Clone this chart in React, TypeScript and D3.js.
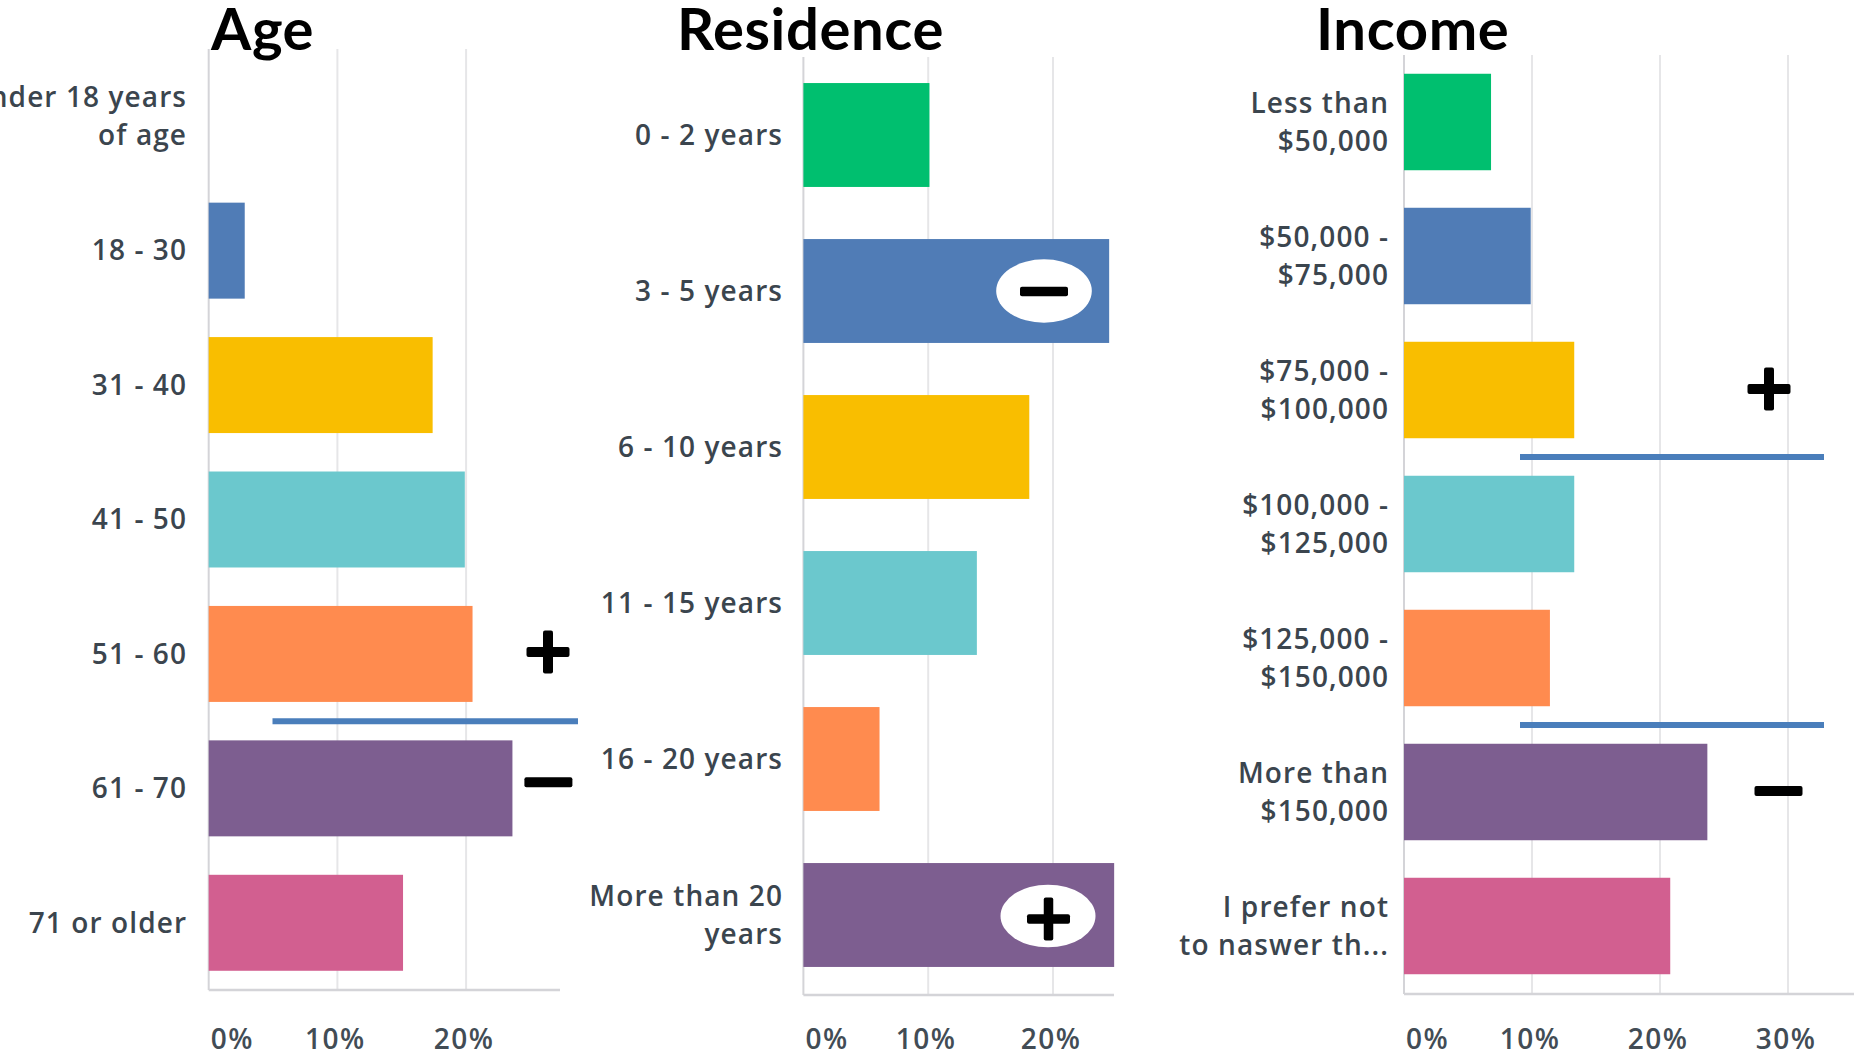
import React from "react";
import * as d3 from "d3";

// ---------- data ----------
const titles = ["Age", "Residence", "Income"];

const ageCategories = [
  ["Under 18 years", "of age"],
  ["18 - 30"],
  ["31 - 40"],
  ["41 - 50"],
  ["51 - 60"],
  ["61 - 70"],
  ["71 or older"],
];
const ageValues = [0, 2.8, 17.4, 19.9, 20.5, 23.6, 15.1];

const residenceCategories = [
  ["0 - 2 years"],
  ["3 - 5 years"],
  ["6 - 10 years"],
  ["11 - 15 years"],
  ["16 - 20 years"],
  ["More than 20", "years"],
];
const residenceValues = [10.1, 24.5, 18.1, 13.9, 6.1, 24.9];

const incomeCategories = [
  ["Less than", "$50,000"],
  ["$50,000 -", "$75,000"],
  ["$75,000 -", "$100,000"],
  ["$100,000 -", "$125,000"],
  ["$125,000 -", "$150,000"],
  ["More than", "$150,000"],
  ["I prefer not", "to naswer th..."],
];
const incomeValues = [6.8, 9.9, 13.3, 13.3, 11.4, 23.7, 20.8];

const ageTicks = [0, 10, 20];
const residenceTicks = [0, 10, 20];
const incomeTicks = [0, 10, 20, 30];

const barColors = ["#00bf6f", "#507cb6", "#f9be00", "#6bc8cd", "#ff8b4f", "#7d5e90", "#d25f90"];

// ---------- layout ----------
const W = 1858;
const H = 1055;
const LABEL_FONT = "'Open Sans', 'DejaVu Sans', sans-serif";
const TITLE_FONT = "Lato, 'Open Sans', sans-serif";
const LABEL_LS = 1.1;
const TICK_LS = 1.5;

type Panel = {
  title: string;
  titleX: number;
  cats: string[][];
  vals: number[];
  ticks: number[];
  x0: number;
  px10: number;
  xEnd: number;
  y0: number;
  y1: number;
  axisY: number;
  pad: number;
  labelX: number;
};

const panels: Panel[] = [
  { title: titles[0], titleX: 211, cats: ageCategories, vals: ageValues, ticks: ageTicks,
    x0: 208.7, px10: 128.7, xEnd: 560, y0: 49, y1: 990, axisY: 990, pad: 0.286, labelX: 186 },
  { title: titles[1], titleX: 677, cats: residenceCategories, vals: residenceValues, ticks: residenceTicks,
    x0: 803.4, px10: 124.8, xEnd: 1114, y0: 57, y1: 993, axisY: 995, pad: 0.334, labelX: 782 },
  { title: titles[2], titleX: 1316, cats: incomeCategories, vals: incomeValues, ticks: incomeTicks,
    x0: 1404, px10: 128, xEnd: 1854, y0: 55, y1: 993, axisY: 994, pad: 0.28, labelX: 1388 },
];

function makeScales(p: Panel) {
  const x = d3.scaleLinear().domain([0, 10]).range([p.x0, p.x0 + p.px10]);
  const y = d3
    .scaleBand<number>()
    .domain(d3.range(p.cats.length))
    .range([p.y0, p.y1])
    .paddingInner(p.pad)
    .paddingOuter(p.pad / 2);
  return { x, y };
}

function Plus({ cx, cy, size = 43, t = 10 }: { cx: number; cy: number; size?: number; t?: number }) {
  return (
    <g fill="#000">
      <rect x={cx - size / 2} y={cy - t / 2} width={size} height={t} rx={2} />
      <rect x={cx - t / 2} y={cy - size / 2} width={t} height={size} rx={2} />
    </g>
  );
}
function Minus({ cx, cy, size = 48, t = 10 }: { cx: number; cy: number; size?: number; t?: number }) {
  return <rect x={cx - size / 2} y={cy - t / 2} width={size} height={t} rx={2} fill="#000" />;
}

function PanelView({ p }: { p: Panel }) {
  const { x, y } = makeScales(p);
  const bw = y.bandwidth();
  return (
    <g>
      <text x={p.titleX} y={50} fontFamily={TITLE_FONT} fontWeight={700} fontSize={58} letterSpacing={0.6} fill="#000">
        {p.title}
      </text>
      {/* grid */}
      {p.ticks.filter((t) => t > 0).map((t) => (
        <line key={t} x1={x(t)} x2={x(t)} y1={p.y0} y2={p.axisY} stroke="#e6e6e8" strokeWidth={2} />
      ))}
      <line x1={p.x0} x2={p.x0} y1={p.y0} y2={p.axisY} stroke="#d4d4d8" strokeWidth={2} />
      <line x1={p.x0} x2={p.xEnd} y1={p.axisY} y2={p.axisY} stroke="#d4d4d8" strokeWidth={2.5} />
      {/* bars */}
      {p.vals.map((v, i) => (
        <rect key={i} x={p.x0} y={y(i)!} width={Math.max(0, x(v) - p.x0)} height={bw} fill={barColors[i]} />
      ))}
      {/* category labels */}
      {p.cats.map((lines, i) => {
        const cy = y(i)! + bw / 2;
        const lh = 37.5;
        const start = cy - ((lines.length - 1) * lh) / 2;
        return (
          <text
            key={i}
            textAnchor="end"
            fontFamily={LABEL_FONT}
            fontWeight={600}
            fontSize={28}
            letterSpacing={LABEL_LS}
            fill="#3b454e"
          >
            {lines.map((l, j) => (
              <tspan key={j} x={p.labelX + LABEL_LS} y={start + j * lh} dy="0.35em">
                {l}
              </tspan>
            ))}
          </text>
        );
      })}
      {/* tick labels */}
      {p.ticks.map((t) => (
        <text
          key={t}
          x={t === 0 ? p.x0 + 2 : x(t) - 2}
          y={1039}
          dy="0.35em"
          textAnchor={t === 0 ? "start" : "middle"}
          fontFamily={LABEL_FONT}
          fontWeight={600}
          fontSize={28}
          letterSpacing={TICK_LS}
          fill="#424c55"
        >
          {t}%
        </text>
      ))}
    </g>
  );
}

export default function App() {
  const [age, res, inc] = panels.map(makeScales);
  const gapY = (s: ReturnType<typeof makeScales>, i: number) => s.y(i)! - (s.y.step() - s.y.bandwidth()) / 2;
  const mid = (s: ReturnType<typeof makeScales>, i: number) => s.y(i)! + s.y.bandwidth() / 2;
  const blue = "#4a7ebb";
  return (
    <svg
      width={W}
      height={H}
      viewBox={`0 0 ${W} ${H}`}
      style={{ position: "absolute", left: 0, top: 0, background: "#fff" }}
    >
      <rect width={W} height={H} fill="#fff" />
      {panels.map((p) => (
        <PanelView key={p.title} p={p} />
      ))}
      {/* Age annotations */}
      <line x1={272.5} x2={578} y1={gapY(age, 5)} y2={gapY(age, 5)} stroke={blue} strokeWidth={6} />
      <Plus cx={548} cy={mid(age, 4) - 2} />
      <Minus cx={548.4} cy={mid(age, 5) - 6} />
      {/* Residence annotations */}
      <ellipse cx={1044} cy={mid(res, 1)} rx={47.8} ry={31.7} fill="#fff" />
      <Minus cx={1044} cy={mid(res, 1) + 0.5} size={48} t={9.5} />
      <ellipse cx={1048} cy={mid(res, 5) + 1} rx={47.5} ry={31.3} fill="#fff" />
      <Plus cx={1048.5} cy={mid(res, 5) + 4} size={43} t={9.5} />
      {/* Income annotations */}
      <line x1={1520} x2={1824} y1={gapY(inc, 3)} y2={gapY(inc, 3)} stroke={blue} strokeWidth={6} />
      <line x1={1520} x2={1824} y1={gapY(inc, 5)} y2={gapY(inc, 5)} stroke={blue} strokeWidth={6} />
      <Plus cx={1769} cy={mid(inc, 2) - 1} />
      <Minus cx={1778.5} cy={mid(inc, 5) - 1} />
    </svg>
  );
}
